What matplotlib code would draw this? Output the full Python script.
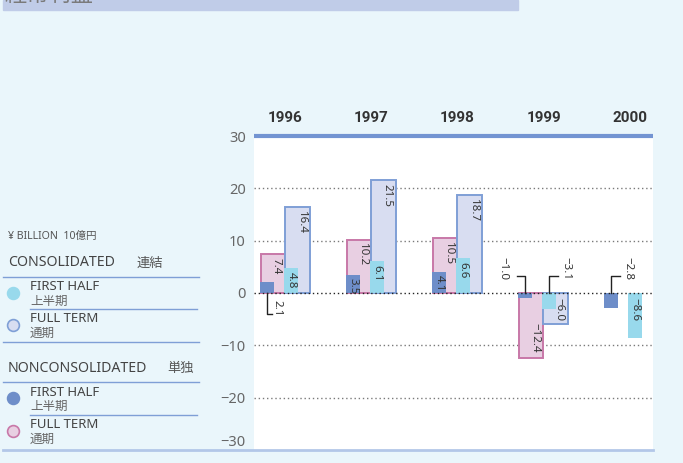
import numpy as np
import matplotlib
matplotlib.use("Agg")
import matplotlib.pyplot as plt
from matplotlib.lines import Line2D
from matplotlib.patches import Rectangle

plt.rcParams['font.family'] = ['Noto Sans', 'Noto Sans CJK JP', 'DejaVu Sans']

# ---- data (¥ billion) ----
years = ['1996', '1997', '1998', '1999', '2000']
non_half = [2.1, 3.5, 4.1, -1.0, -2.8]          # nonconsolidated, first half
non_full = [7.4, 10.2, 10.5, -12.4, np.nan]     # nonconsolidated, full term
con_half = [4.8, 6.1, 6.6, -3.1, -8.6]          # consolidated, first half
con_full = [16.4, 21.5, 18.7, -6.0, np.nan]     # consolidated, full term
yticks = [-30, -20, -10, 0, 10, 20, 30]

# small values get a label outside with a leader line: (series, index) -> side
leaders = {('non_half', 0): 'down', ('non_half', 3): 'left',
           ('con_half', 3): 'right', ('non_half', 4): 'right'}

W, H = 683, 463
BG = '#eaf6fb'
C_NH = '#6e8ec9'
C_NF = '#e8cfe2'; E_NF = '#c878a8'
C_CH = '#98d9ec'
C_CF = '#d8ddf1'; E_CF = '#7f9fd6'
TXT = '#333333'

fig = plt.figure(figsize=(W / 100, H / 100), dpi=100, facecolor=BG)

def fx(x):
    return x / W

def fy(y):
    return 1 - y / H

# banner at top (its title is cut off by the top edge, as in the original)
fig.add_artist(Rectangle((fx(3), fy(10)), fx(518) - fx(3), 10 / H,
                         transform=fig.transFigure, color='#c0cce8', zorder=0))
fig.text(fx(4), fy(6), '経常利益', fontsize=16, color='#7a7a7a', va='bottom', ha='left')

ax = fig.add_axes([fx(254), fy(450), fx(653) - fx(254), (450 - 136) / H])
ax.set_facecolor('white')
ax.set_xlim(-0.366, 4.273)
ax.set_ylim(-30, 30)

x = np.arange(len(years))
ax.bar(x - 0.285, non_full, width=0.28, align='edge', color=C_NF,
       edgecolor=E_NF, linewidth=1.4, zorder=2)
ax.bar(x - 0.297, non_half, width=0.163, align='edge', color=C_NH, zorder=3)
ax.bar(x - 0.006, con_full, width=0.29, align='edge', color=C_CF,
       edgecolor=E_CF, linewidth=1.4, zorder=2)
ax.bar(x - 0.017, con_half, width=0.163, align='edge', color=C_CH, zorder=3)

for g in [-20, -10, 10, 20]:
    ax.axhline(g, color='#7a7a7a', lw=1, ls=(0, (1, 2)), zorder=1)
ax.axhline(0, color='#222222', lw=1, ls=(0, (1, 2)), zorder=4)

def fmt(v):
    return ('%.1f' % v).replace('-', '\u2212')

series = [
    ('non_full', non_full, -0.285 + 0.28 - 0.10, 'end'),
    ('non_half', non_half, -0.297 + 0.0815, 'base'),
    ('con_full', con_full, -0.006 + 0.29 - 0.10, 'base'),
    ('con_half', con_half, -0.017 + 0.0815, 'base'),
]
kw = dict(rotation=270, fontsize=8.3, color=TXT, ha='center', zorder=6)
for name, vals, off, mode in series:
    for i, v in enumerate(vals):
        if np.isnan(v):
            continue
        cx = i + off
        side = leaders.get((name, i))
        if side == 'down':
            ax.plot([cx, cx, cx + 0.06], [0, -4, -4], color='#222', lw=1, zorder=5)
            ax.text(cx + 0.12, -1.3, fmt(v), va='top', **kw)
        elif side == 'left':
            ax.plot([cx, cx, cx - 0.09], [0, 3.3, 3.3], color='#222', lw=1, zorder=5)
            ax.text(cx - 0.26, 2.5, fmt(v), va='bottom', **kw)
        elif side == 'right':
            ax.plot([cx, cx, cx + 0.1], [0, 3.3, 3.3], color='#222', lw=1, zorder=5)
            ax.text(cx + 0.2, 2.5, fmt(v), va='bottom', **kw)
        elif v > 0:
            ax.text(cx, v - 0.7, fmt(v), va='top', **kw)
        elif mode == 'end':
            ax.text(cx, v + 1.1, fmt(v), va='bottom', **kw)
        else:
            ax.text(cx, -0.9, fmt(v), va='top', **kw)

# year labels above the plot
for i, yr in enumerate(years):
    ax.text(i, 1.057, yr, transform=ax.get_xaxis_transform(), ha='center',
            va='center', fontsize=11, fontweight='bold', color=TXT,
            family=['Roboto', 'DejaVu Sans'])

ax.set_xticks([])
ax.set_yticks(yticks)
ax.set_yticklabels([str(t).replace('-', '\u2212') for t in yticks],
                   fontsize=10.5, color='#666666')
ax.get_yticklabels()[0].set_va('bottom')
ax.tick_params(axis='y', length=0, pad=6)
for s in ['left', 'right', 'bottom']:
    ax.spines[s].set_visible(False)
ax.spines['top'].set_color('#7394d2')
ax.spines['top'].set_linewidth(3)
ax.spines['top'].set_capstyle('butt')

# ---- left legend panel ----
def hline(x0, x1, y, color='#7f9fd6', lw=1):
    fig.add_artist(Line2D([fx(x0), fx(x1)], [fy(y), fy(y)], transform=fig.transFigure,
                          color=color, lw=lw))

hline(3, 653, 449.5, color='#b3c7e8', lw=2)

fig.text(fx(8), fy(236), '¥ BILLION  10億円', fontsize=7.6, color='#555555', va='center')
fig.text(fx(8), fy(263), 'CONSOLIDATED', fontsize=10.2, color='#444444', va='center')
fig.text(fx(137), fy(263), '連結', fontsize=9.5, color='#555555', va='center')
hline(3, 199, 277)
fig.text(fx(8), fy(368), 'NONCONSOLIDATED', fontsize=10.2, color='#444444', va='center')
fig.text(fx(167), fy(368), '単独', fontsize=9.5, color='#555555', va='center')
hline(3, 199, 382)

entries = [
    (293, C_CH, C_CH, 'FIRST HALF', '上半期', 309, 30),
    (325, C_CF, E_CF, 'FULL TERM', '通期', 342, 3),
    (398, C_NH, C_NH, 'FIRST HALF', '上半期', 415, 30),
    (431, C_NF, E_NF, 'FULL TERM', '通期', None, 0),
]
for cy, fc, ec, en, jp, ly, lx in entries:
    fig.add_artist(Line2D([fx(13)], [fy(cy)], transform=fig.transFigure, marker='o',
                          markersize=8.5, markerfacecolor=fc, markeredgecolor=ec,
                          markeredgewidth=1.2, linestyle='none'))
    fig.text(fx(30), fy(cy - 6), en, fontsize=9.5, color='#444444', va='center')
    fig.text(fx(30), fy(cy + 8), jp, fontsize=9, color='#666666', va='center')
    if ly is not None:
        hline(lx, 199 if lx == 3 else 197, ly)

fig.savefig('out.png', dpi=100, facecolor=BG)
